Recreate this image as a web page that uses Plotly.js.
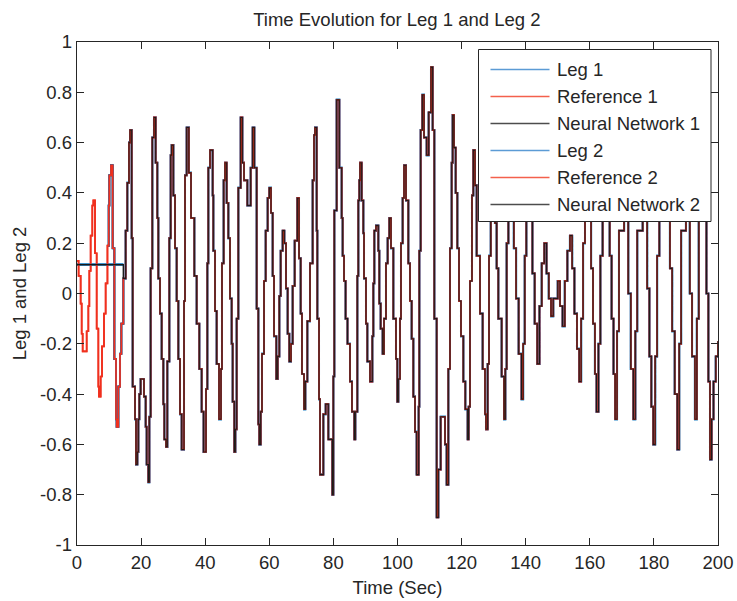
<!DOCTYPE html>
<html>
<head>
<meta charset="utf-8">
<script src="https://cdn.plot.ly/plotly-3.0.1.min.js"></script>
<style>
  html, body { margin: 0; padding: 0; background: #fff; }
  #chart { width: 737px; height: 601px; }
</style>
</head>
<body>
<div id="chart"></div>
<script>
// ---------- data (staircase levels, time in s) ----------
const seriesNames = ["Leg 1", "Reference 1", "Neural Network 1", "Leg 2", "Reference 2", "Neural Network 2"];

// common staircase waveform once the network has locked on
const tMain = [14.46,15.18,15.70,16.22,16.54,17.06,17.37,18.10,18.41,18.83,19.14,19.45,19.86,20.90,21.43,21.74,22.26,22.57,22.98,23.50,24.02,24.54,25.06,25.38,25.90,26.42,26.94,27.25,27.77,28.18,28.81,29.23,29.54,30.06,30.58,31.10,31.62,32.14,32.66,33.39,33.70,34.22,34.90,35.57,36.61,37.34,38.17,38.90,39.50,40.25,40.67,40.98,41.50,42.33,42.54,43.06,43.58,44.31,44.93,45.24,45.76,46.18,46.70,47.22,47.74,48.26,48.57,49.09,49.40,49.82,50.34,51.07,51.59,52.11,53.15,54.19,54.81,55.33,56.06,56.58,56.89,57.31,57.72,58.35,58.87,59.49,60.01,60.53,61.05,61.47,62.19,62.61,63.13,63.55,64.17,64.69,65.21,65.73,66.25,66.77,67.29,67.92,68.75,69.27,69.79,70.20,70.83,71.24,71.87,72.70,73.53,73.95,74.26,74.78,74.99,75.51,75.82,76.86,77.59,78.42,79.67,79.98,80.29,81.02,81.85,82.58,82.89,83.31,83.80,84.40,85.18,85.80,86.53,86.84,87.47,87.78,88.09,88.30,88.82,89.34,89.55,90.17,90.59,91.42,92.15,92.46,92.77,93.29,94.02,94.33,94.75,95.37,95.79,96.41,96.93,97.45,97.97,98.70,99.53,99.95,100.26,100.78,101.09,101.61,102.03,102.65,103.38,103.90,104.42,104.94,105.46,105.98,106.60,106.81,107.23,107.75,108.27,109.10,109.73,110.45,110.97,111.49,112.22,112.74,113.47,114.82,115.34,115.86,116.38,116.90,117.21,117.63,118.15,118.67,119.19,119.81,120.54,121.16,121.89,122.20,122.62,123.24,123.66,124.18,124.70,125.74,126.57,127.30,127.61,128.13,128.55,129.10,129.70,130.40,130.94,131.46,132.50,133.23,133.64,134.06,134.60,135.10,135.70,136.30,137.00,137.80,138.70,139.20,139.70,140.20,140.90,141.50,142.10,142.80,143.60,144.30,145.00,145.80,146.50,147.20,147.90,148.60,150.00,150.70,151.50,152.20,153.00,153.80,154.50,155.20,156.00,156.70,157.30,157.90,158.50,159.20,159.80,160.40,161.00,161.60,162.10,162.70,163.30,164.00,165.00,165.60,166.20,166.80,167.40,167.90,168.50,169.10,170.70,171.40,172.00,172.80,173.60,174.20,174.80,176.50,177.20,177.90,178.60,179.20,179.80,180.40,181.00,181.70,183.50,184.30,185.00,185.70,186.50,187.30,187.90,188.50,190.00,190.60,191.20,191.90,192.80,193.40,194.00,195.20,195.80,196.40,197.00,197.50,198.00,198.60,199.30,200.00];
const vMain = [0.06,0.25,0.44,0.60,0.65,0.22,-0.37,-0.50,-0.68,-0.63,-0.50,-0.40,-0.34,-0.41,-0.53,-0.68,-0.75,-0.49,0.10,0.62,0.70,0.52,0.30,0.06,-0.08,-0.26,-0.44,-0.58,-0.61,-0.27,0.22,0.55,0.59,0.39,0.18,-0.03,-0.26,-0.48,-0.62,-0.03,0.47,0.66,0.48,0.30,0.07,-0.12,-0.30,-0.47,-0.63,-0.38,0.12,0.50,0.57,0.39,0.17,-0.07,-0.28,-0.50,-0.30,0.12,0.45,0.52,0.36,0.22,-0.02,-0.20,-0.43,-0.63,-0.54,-0.10,0.42,0.70,0.52,0.45,0.35,0.50,0.66,0.50,-0.06,-0.52,-0.60,-0.47,-0.24,0.05,0.25,0.38,0.42,0.32,0.07,-0.17,-0.34,-0.25,-0.01,0.17,0.25,0.20,0.02,-0.16,-0.27,-0.20,0.03,0.21,0.38,0.14,-0.08,-0.32,-0.46,-0.35,-0.11,0.12,0.45,0.63,0.66,0.25,-0.10,-0.42,-0.72,-0.48,-0.44,-0.58,-0.80,-0.33,0.33,0.77,0.50,0.30,0.15,0.05,-0.10,-0.20,-0.35,-0.47,-0.58,-0.47,0.07,0.37,0.45,0.52,0.37,0.24,0.06,-0.12,-0.27,-0.35,-0.17,0.04,0.25,0.27,0.17,-0.04,-0.14,-0.24,-0.10,0.12,0.22,0.30,0.18,-0.10,-0.26,-0.43,-0.34,-0.10,0.20,0.38,0.51,0.37,0.12,-0.03,-0.18,-0.41,-0.55,-0.72,-0.45,0.17,0.65,0.79,0.62,0.55,0.72,0.90,0.65,-0.10,-0.89,-0.70,-0.49,-0.60,-0.76,-0.30,0.18,0.52,0.71,0.58,0.40,0.18,-0.03,-0.17,-0.35,-0.46,-0.58,-0.45,0.05,0.39,0.57,0.43,0.15,-0.08,-0.30,-0.48,-0.54,-0.28,0.15,0.45,0.62,0.28,0.10,-0.10,-0.33,-0.50,-0.30,0.20,0.45,0.62,0.40,0.18,-0.02,-0.24,-0.42,-0.20,0.15,0.40,0.55,0.30,0.08,-0.12,-0.28,-0.05,0.12,0.20,0.08,-0.02,-0.09,-0.02,0.05,-0.05,-0.13,0.05,0.17,0.23,0.10,-0.08,-0.22,-0.35,-0.10,0.20,0.40,0.55,0.35,0.10,-0.12,-0.32,-0.47,-0.20,0.15,0.40,0.62,0.40,0.15,-0.10,-0.32,-0.50,-0.15,0.25,0.60,0.30,0.00,-0.30,-0.50,-0.15,0.25,0.60,0.30,0.02,-0.25,-0.45,-0.60,-0.25,0.15,0.45,0.60,0.35,0.10,-0.15,-0.40,-0.62,-0.20,0.25,0.60,0.30,0.00,-0.25,-0.50,-0.10,0.30,0.60,0.30,0.00,-0.35,-0.66,-0.50,-0.35,-0.25,-0.19];

// start-up segments
const tRefStart = [0,0.50,1.14,1.46,1.77,3.02,3.54,3.85,4.26,4.78,5.10,5.62,6.14,6.66,6.86,7.38,7.80,8.42,8.94,9.50,9.90,10.09,10.61,11.13,11.65,12.17,12.38,12.90,13.42,13.83];
const vRefStart = [0.13,0.07,-0.04,-0.16,-0.23,-0.15,-0.05,0.09,0.23,0.35,0.37,0.16,-0.14,-0.37,-0.41,-0.33,-0.21,-0.08,0.04,0.19,0.35,0.47,0.51,0.18,-0.26,-0.50,-0.53,-0.37,-0.24,-0.12];
const tNNStart  = [0];
const vNNStart  = [0.115];
const tLegHold  = [0, 14.46];      // leg sits under the network output before t = 9.5 s
const vLegHold  = [0.115, 0.115];
const tLegJoin  = 9.5;             // time the leg is seen on the reference

const xTickVals = [0,20,40,60,80,100,120,140,160,180,200];
const xTickText = ["0","20","40","60","80","100","120","140","160","180","200"];
const yTickVals = [-1,-0.8,-0.6,-0.4,-0.2,0,0.2,0.4,0.6,0.8,1];
const yTickText = ["-1","-0.8","-0.6","-0.4","-0.2","0","0.2","0.4","0.6","0.8","1"];

// ---------- styling ----------
const FONT = '"Liberation Sans", Arial, Helvetica, sans-serif';
const TXT = '#262626';
const colors = { leg: '#0072BD', ref: '#F0301E', nn: '#1a1a1a' };
const legendColors = ['#5b9bd5', '#f4604c', '#4d4d4d', '#5b9bd5', '#f4604c', '#4d4d4d'];

const refX = tRefStart.concat(tMain), refY = vRefStart.concat(vMain);
const nnX  = tNNStart.concat(tMain),  nnY  = vNNStart.concat(vMain);
const k = refX.findIndex(t => t >= tLegJoin);
const legX = tLegHold.concat([null], refX.slice(k));
const legY = vLegHold.concat([null], refY.slice(k));

function tr(x, y, color, width, name) {
  return { type: 'scatter', mode: 'lines', x: x, y: y, name: name,
           line: { color: color, width: width, shape: 'hv' },
           showlegend: false, hoverinfo: 'skip' };
}
const traces = [
  tr(legX, legY, colors.leg, 2.0, seriesNames[0]),
  tr(refX, refY, colors.ref, 1.7, seriesNames[1]),
  tr(nnX,  nnY,  colors.nn,  1.1, seriesNames[2]),
  tr(legX, legY, colors.leg, 2.0, seriesNames[3]),
  tr(refX, refY, colors.ref, 1.7, seriesNames[4]),
  tr(nnX,  nnY,  colors.nn,  1.1, seriesNames[5])
];

// plot area geometry in pixels
const L = 77, R = 718, T = 42, B = 545;
const px2x = p => (p - L) / (R - L);
const px2y = p => (B - p) / (B - T);

// MATLAB-style legend box
const shapes = [{
  type: 'rect', xref: 'paper', yref: 'paper', layer: 'above',
  x0: px2x(478.5), x1: px2x(711), y0: px2y(221.5), y1: px2y(49.5),
  fillcolor: '#ffffff', line: { color: TXT, width: 1 }
}];
const annotations = [];
seriesNames.forEach((nm, i) => {
  const yc = 69.5 + i * 27;
  shapes.push({ type: 'line', xref: 'paper', yref: 'paper', layer: 'above',
    x0: px2x(490.5), x1: px2x(549.5), y0: px2y(yc), y1: px2y(yc),
    line: { color: legendColors[i], width: 1.5 } });
  annotations.push({ xref: 'paper', yref: 'paper', x: px2x(555), y: px2y(yc),
    xanchor: 'left', yanchor: 'middle', showarrow: false, text: nm,
    font: { family: FONT, size: 18.5, color: TXT } });
});

const axisCommon = {
  showgrid: false, zeroline: false, showline: true, mirror: 'ticks',
  linecolor: TXT, linewidth: 1.3, ticks: 'inside', ticklen: 7, tickwidth: 1,
  tickcolor: TXT, tickfont: { family: FONT, size: 18.5, color: TXT },
  tickmode: 'array'
};

const layout = {
  width: 737, height: 601,
  margin: { l: L, r: 737 - R, t: T, b: 601 - B, pad: 0 },
  paper_bgcolor: '#ffffff', plot_bgcolor: '#ffffff',
  showlegend: false,
  font: { family: FONT, color: TXT },
  title: { text: 'Time Evolution for Leg 1 and Leg 2', x: 0.5385, xanchor: 'center',
           y: 1 - 19.5 / 601, yanchor: 'middle', yref: 'container',
           font: { family: FONT, size: 18.5, color: TXT } },
  xaxis: Object.assign({}, axisCommon, {
    range: [0, 200], tickvals: xTickVals, ticktext: xTickText,
    title: { text: 'Time (Sec)', font: { family: FONT, size: 18.5, color: TXT }, standoff: 9 }
  }),
  yaxis: Object.assign({}, axisCommon, {
    range: [-1, 1], tickvals: yTickVals, ticktext: yTickText,
    title: { text: 'Leg 1 and Leg 2', font: { family: FONT, size: 18.5, color: TXT }, standoff: 8 }
  }),
  shapes: shapes,
  annotations: annotations
};

Plotly.newPlot('chart', traces, layout, { displayModeBar: false, staticPlot: true });
</script>
</body>
</html>
